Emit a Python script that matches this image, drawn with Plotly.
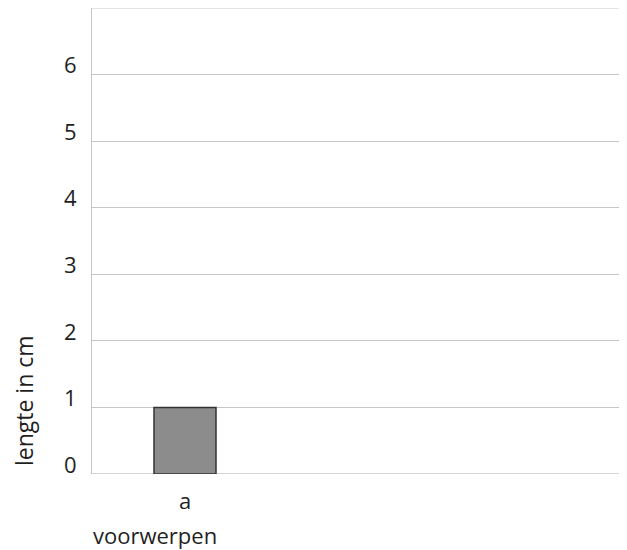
import plotly.graph_objects as go

categories = ["a"]
values = [1]
y_ticks = [0, 1, 2, 3, 4, 5, 6]
y_title = "lengte in cm"
x_title = "voorwerpen"

FONT = "Open Sans"
TXT = "#1f1f1f"
GRID = "#c6c6c6"
FS = 22

fig = go.Figure()
fig.add_trace(go.Bar(
    x=[0], y=values, width=1.0,
    marker=dict(color="#8c8c8c", line=dict(color="#333333", width=1.5)),
    showlegend=False,
))

fig.update_layout(
    width=619, height=542,
    margin=dict(l=84, r=0, t=0, b=76),
    paper_bgcolor="white", plot_bgcolor="white",
    font=dict(family=FONT, size=FS, color=TXT),
    xaxis=dict(
        range=[-1.5, 7.13], tickmode="array", tickvals=[0], ticktext=categories,
        showgrid=False, zeroline=False, showline=False, ticks="",
        ticklabelstandoff=12,
        tickfont=dict(size=FS, color=TXT), fixedrange=True,
    ),
    yaxis=dict(
        range=[0, 7], tickmode="array", tickvals=y_ticks,
        ticktext=[str(t) for t in y_ticks],
        showgrid=True, gridcolor=GRID, gridwidth=1,
        zeroline=False, showline=True, linecolor=GRID, linewidth=1,
        ticks="", ticklabelstandoff=10, ticklabelshift=-9,
        tickfont=dict(size=FS, color=TXT),
    ),
    shapes=[
        dict(type="line", xref="paper", yref="y", x0=0, x1=1, y0=7, y1=7,
             line=dict(color=GRID, width=1), layer="below"),
        dict(type="line", xref="paper", yref="y", x0=0, x1=1, y0=0, y1=0,
             line=dict(color=GRID, width=1.5), layer="below"),
    ],
    annotations=[
        dict(text=y_title, xref="paper", yref="paper", x=-0.127, y=0.1567,
             textangle=-90, showarrow=False, font=dict(size=23, color=TXT),
             xanchor="center", yanchor="middle"),
        dict(text=x_title, xref="x", yref="paper", x=-0.484, y=-0.131,
             showarrow=False, font=dict(size=FS, color=TXT),
             xanchor="center", yanchor="middle"),
    ],
)

fig.write_html("out.html")
